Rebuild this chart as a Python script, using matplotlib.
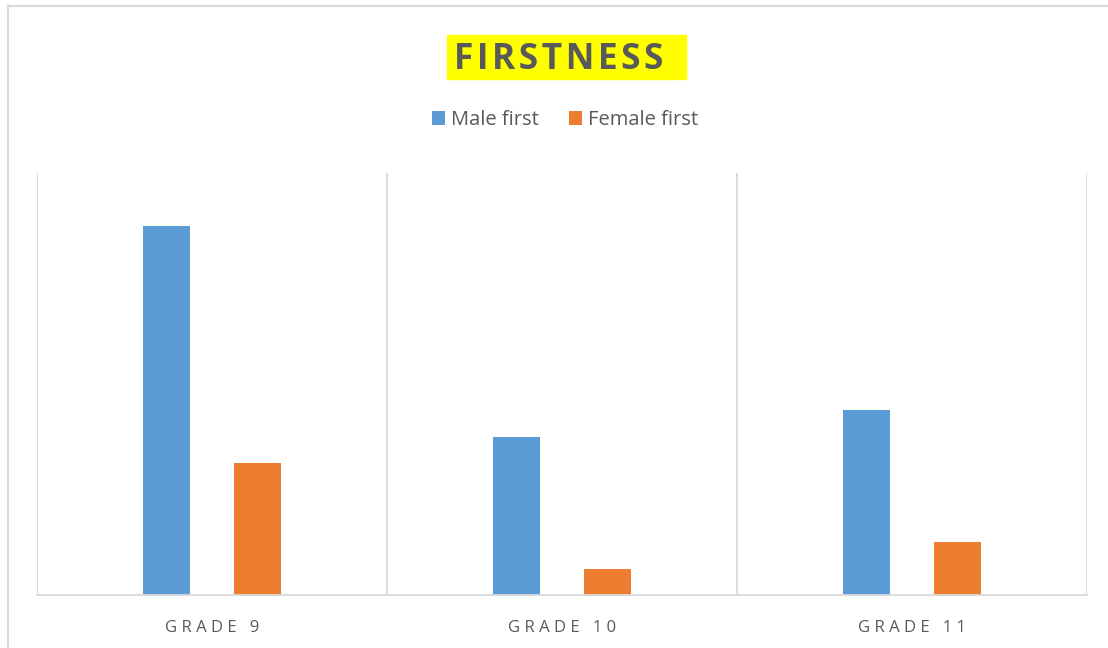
import numpy as np
import matplotlib.pyplot as plt
from matplotlib.patches import Rectangle

# 数据
categories = ['GRADE 9', 'GRADE 10', 'GRADE 11']
male_first = [14, 6, 7]
female_first = [5, 1, 2]
series_names = ['Male first', 'Female first']
title = 'FIRSTNESS'

plt.rcParams['font.family'] = ['Open Sans', 'DejaVu Sans']
grey = '#595959'
grid_c = '#D9D9D9'

fig = plt.figure(figsize=(11.08, 6.48), dpi=100)
ax = fig.add_axes([0.0334, 0.0818, 0.9477, 0.651])

x = np.arange(len(categories))
w = 0.134
off = 0.13
b1 = ax.bar(x - off, male_first, w, color='#5B9BD5', label=series_names[0])
b2 = ax.bar(x + off, female_first, w, color='#ED7D31', label=series_names[1])

ax.set_xlim(-0.5, len(categories) - 0.5)
ax.set_ylim(0, 16)
ax.set_yticks([])
ax.set_xticks(x)
ax.set_xticklabels([' '.join(c) for c in categories], color=grey, fontsize=12)
ax.tick_params(axis='x', length=0, pad=18)

# 分类之间的竖线
for b in np.arange(-0.5, len(categories), 1.0):
    ax.axvline(b, color=grid_c, lw=1.3, zorder=0)
for s in ['top', 'left', 'right']:
    ax.spines[s].set_visible(False)
ax.spines['bottom'].set_color(grid_c)
ax.spines['bottom'].set_linewidth(1.3)

# 标题（黄色底）
fig.patches.append(Rectangle((447 / 1108, 1 - 79 / 648), 239 / 1108, 44 / 648,
                             transform=fig.transFigure, color='#FFFF00', zorder=0))
fig.text(559 / 1108, 1 - 60 / 648, '\u200a'.join(title), ha='center', va='center',
         fontsize=25.5, fontweight='bold', color=grey)

# 外框
fig.add_artist(plt.Line2D([8 / 1108, 8 / 1108], [0, 1 - 6 / 648], transform=fig.transFigure,
                          color=grid_c, lw=1.5))
fig.add_artist(plt.Line2D([8 / 1108, 1], [1 - 6 / 648, 1 - 6 / 648], transform=fig.transFigure,
                          color=grid_c, lw=1.5))

fig.legend(handles=[b1, b2], loc='center', bbox_to_anchor=(565 / 1108, 1 - 120 / 648),
           ncol=2, frameon=False, fontsize=14.5, labelcolor=grey,
           handlelength=0.65, handleheight=0.65, handletextpad=0.3, columnspacing=1.5)

fig.savefig('out.png', dpi=100)
